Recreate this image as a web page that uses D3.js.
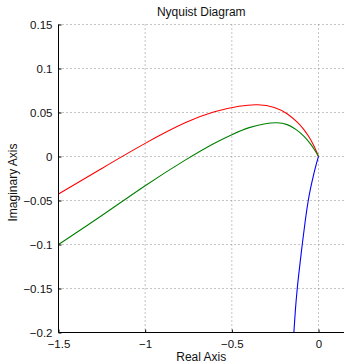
<!DOCTYPE html>
<html>
<head>
<meta charset="utf-8">
<script src="https://cdn.jsdelivr.net/npm/d3@7"></script>
<style>
  html, body { margin: 0; padding: 0; background: #fff; }
  svg { display: block; }
  text { font-family: "Liberation Sans", Arial, Helvetica, sans-serif; fill: #111; }
</style>
</head>
<body>
<svg id="chart" width="344" height="364"></svg>
<script>
// Nyquist curves: real and imaginary parts of each frequency response
const redRe   = [-1.5, -1.25, -1.0, -0.75, -0.6, -0.45, -0.35, -0.25, -0.18, -0.12, -0.085, -0.06, -0.03, -0.012, 0];
const redIm   = [-0.0427, -0.0135, 0.0155, 0.041, 0.0515, 0.0578, 0.0596, 0.0565, 0.049, 0.039, 0.031, 0.024, 0.014, 0.006, 0];
const greenRe = [-1.5, -1.25, -1.0, -0.75, -0.6, -0.5, -0.4, -0.3, -0.24, -0.18, -0.125, -0.08, -0.048, -0.02, 0];
const greenIm = [-0.100, -0.0675, -0.0325, -0.0015, 0.0155, 0.025, 0.0335, 0.0378, 0.0388, 0.037, 0.0305, 0.0225, 0.015, 0.007, 0];
const blueRe  = [0, -0.015, -0.03, -0.045, -0.06, -0.078, -0.094, -0.11, -0.123, -0.134, -0.142];
const blueIm  = [0, -0.01, -0.022, -0.035, -0.05, -0.075, -0.1, -0.127, -0.15, -0.175, -0.2];

const xTicks = [-1.5, -1, -0.5, 0];
const yTicks = [-0.2, -0.15, -0.1, -0.05, 0, 0.05, 0.1, 0.15];
const xLabels = ["\u22121.5", "\u22121", "\u22120.5", "0"];
const yLabels = ["\u22120.2", "\u22120.15", "\u22120.1", "\u22120.05", "0", "0.05", "0.1", "0.15"];

const series = [
  { re: redRe,   im: redIm,   color: "#ff0000" },
  { re: greenRe, im: greenIm, color: "#008000" },
  { re: blueRe,  im: blueIm,  color: "#0000ff" }
];

const svg = d3.select("#chart");
const plotLeft = 58.5, plotRight = 344.5, plotTop = 24.5, plotBottom = 332.5;

const x = d3.scaleLinear().domain([-1.5, 0.15]).range([plotLeft, plotRight]);
const y = d3.scaleLinear().domain([-0.2, 0.15]).range([plotBottom, plotTop]);

// dotted grid
const grid = svg.append("g").attr("stroke", "#8a8a8a").attr("stroke-width", 1)
  .attr("stroke-dasharray", "1,3");
xTicks.filter(v => v !== -1.5).forEach(v => {
  grid.append("line").attr("x1", x(v)).attr("x2", x(v)).attr("y1", plotTop).attr("y2", plotBottom);
});
yTicks.filter(v => v !== -0.2).forEach(v => {
  grid.append("line").attr("x1", plotLeft).attr("x2", plotRight).attr("y1", y(v)).attr("y2", y(v));
});

// curves, clipped to the plotting area
svg.append("clipPath").attr("id", "plotClip")
  .append("rect").attr("x", plotLeft).attr("y", plotTop)
  .attr("width", plotRight - plotLeft).attr("height", plotBottom - plotTop);

const line = d3.line().x(d => x(d[0])).y(d => y(d[1])).curve(d3.curveBasis);
const curves = svg.append("g").attr("clip-path", "url(#plotClip)");
series.forEach(s => {
  const pts = s.re.map((r, i) => [r, s.im[i]]);
  curves.append("path").datum(pts)
    .attr("d", line)
    .attr("fill", "none")
    .attr("stroke", s.color)
    .attr("stroke-width", 1.1);
});

// axes (ticks point inward)
const xAxis = d3.axisBottom(x).tickValues(xTicks).tickSize(-3).tickPadding(7)
  .tickFormat((d, i) => xLabels[i]);
const yAxis = d3.axisLeft(y).tickValues(yTicks).tickSize(-3).tickPadding(6)
  .tickFormat((d, i) => yLabels[i]);

const gx = svg.append("g").attr("transform", `translate(0,${plotBottom})`).call(xAxis);
const gy = svg.append("g").attr("transform", `translate(${plotLeft},0)`).call(yAxis);
[gx, gy].forEach(g => {
  g.select(".domain").attr("stroke", "#000").attr("stroke-width", 1);
  g.selectAll(".tick line").attr("stroke", "#000");
  g.selectAll(".tick text").attr("font-size", 11.5).attr("fill", "#111")
    .attr("font-family", "'Liberation Sans', Arial, Helvetica, sans-serif");
});
gx.select(".domain").attr("d", `M${plotLeft},0H${plotRight}`);
gy.select(".domain").attr("d", `M0,${plotBottom}V${plotTop}`);

// titles
svg.append("text").attr("x", (plotLeft + 344) / 2).attr("y", 16)
  .attr("text-anchor", "middle").attr("font-size", 12).text("Nyquist Diagram");
svg.append("text").attr("x", (plotLeft + 344) / 2).attr("y", 361)
  .attr("text-anchor", "middle").attr("font-size", 12).text("Real Axis");
svg.append("text").attr("transform", `translate(17,${(plotTop + plotBottom) / 2 + 4}) rotate(-90)`)
  .attr("text-anchor", "middle").attr("font-size", 12).text("Imaginary Axis");
</script>
</body>
</html>
